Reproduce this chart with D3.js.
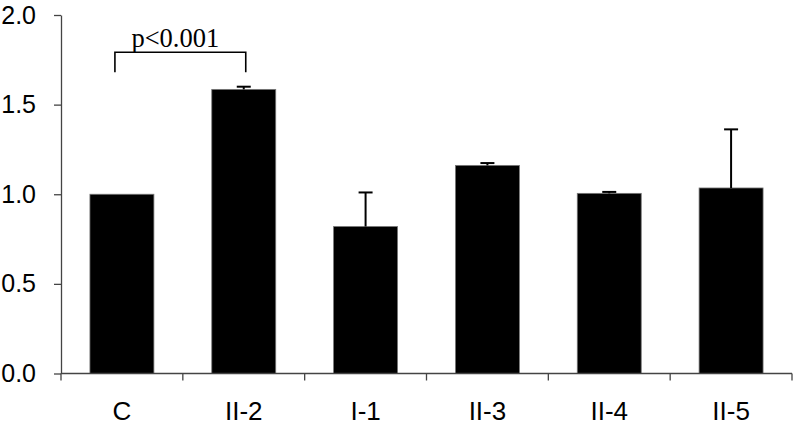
<!DOCTYPE html>
<html>
<head>
<style>
  body { margin: 0; background: #fff; }
  svg { display: block; }
  .axis path, .axis line { stroke: #444; stroke-width: 1.3px; }
  .axis text { font-family: "Liberation Sans", Arial, sans-serif; font-size: 25px; fill: #000; }
</style>
</head>
<body>
<div id="chart"></div>
<script src="https://d3js.org/d3.v7.min.js"></script>
<script>
  // data
  let groups = ["C", "II-2", "I-1", "II-3", "II-4", "II-5"];
  let means  = [1.0, 1.585, 0.82, 1.161, 1.005, 1.035];
  let errs   = [0.0, 0.015, 0.19, 0.013, 0.008, 0.327];
  let yTicks = [0, 0.5, 1.0, 1.5, 2.0];
  let sigLabel = "p<0.001";

  let w = 799, h = 425;
  let svg = d3.select("#chart").append("svg")
      .attr("width", w)
      .attr("height", h);

  let x = d3.scaleBand().domain(groups).range([61, 792]).paddingInner(0.475).paddingOuter(0.2375);
  let y = d3.scaleLinear().domain([0, 2]).range([373.5, 15]);

  // bars
  svg.append("g").selectAll("rect")
    .data(groups)
    .enter().append("rect")
      .attr("x", d => x(d))
      .attr("width", x.bandwidth())
      .attr("y", (d, i) => y(means[i]))
      .attr("height", (d, i) => y(0) - y(means[i]))
      .attr("fill", "#000")
      .attr("stroke", "#777")
      .attr("stroke-width", 0.8);

  // error bars (upper only)
  let eb = svg.append("g").attr("stroke", "#000").attr("stroke-width", 2);
  groups.forEach(function(g, i) {
    if (errs[i] <= 0) return;
    let cx = x(g) + x.bandwidth() / 2;
    eb.append("line")
      .attr("x1", cx).attr("x2", cx)
      .attr("y1", y(means[i])).attr("y2", y(means[i] + errs[i]));
    eb.append("line")
      .attr("x1", cx - 7).attr("x2", cx + 7)
      .attr("y1", y(means[i] + errs[i])).attr("y2", y(means[i] + errs[i]));
  });

  // y axis
  svg.append("g")
    .attr("class", "axis")
    .attr("transform", "translate(61,0)")
    .call(d3.axisLeft(y).tickValues(yTicks).tickFormat(d3.format(".1f")).tickSizeInner(7).tickSizeOuter(0).tickPadding(18));

  // x axis: ticks between categories
  let xa = svg.append("g")
    .attr("class", "axis")
    .attr("transform", "translate(0," + y(0) + ")");
  xa.append("line").attr("x1", 61).attr("x2", 792).attr("y1", 0).attr("y2", 0);
  let bounds = d3.range(groups.length + 1).map(i => 61 + i * x.step() * 1);
  xa.selectAll(".tk").data(bounds).enter().append("line")
    .attr("class", "tk")
    .attr("x1", d => d).attr("x2", d => d)
    .attr("y1", 0).attr("y2", 7);
  xa.selectAll("text").data(groups).enter().append("text")
    .attr("x", d => x(d) + x.bandwidth() / 2)
    .attr("y", 46.5)
    .attr("text-anchor", "middle")
    .style("font-size", "26px")
    .text(d => d);

  // significance bracket
  let bx1 = x("C") + x.bandwidth() / 2 - 7;
  let bx2 = x("II-2") + x.bandwidth() / 2 + 2;
  let by = 52.3;
  svg.append("path")
    .attr("d", "M" + bx1 + "," + (by + 20) + "V" + by + "H" + bx2 + "V" + (by + 20))
    .attr("fill", "none")
    .attr("stroke", "#000")
    .attr("stroke-width", 1.6);
  svg.append("text")
    .attr("x", (bx1 + bx2) / 2 - 5)
    .attr("y", 47)
    .attr("text-anchor", "middle")
    .attr("font-family", "Liberation Serif, Times New Roman, serif")
    .attr("font-size", 26.5)
    .text(sigLabel);
</script>
</body>
</html>
